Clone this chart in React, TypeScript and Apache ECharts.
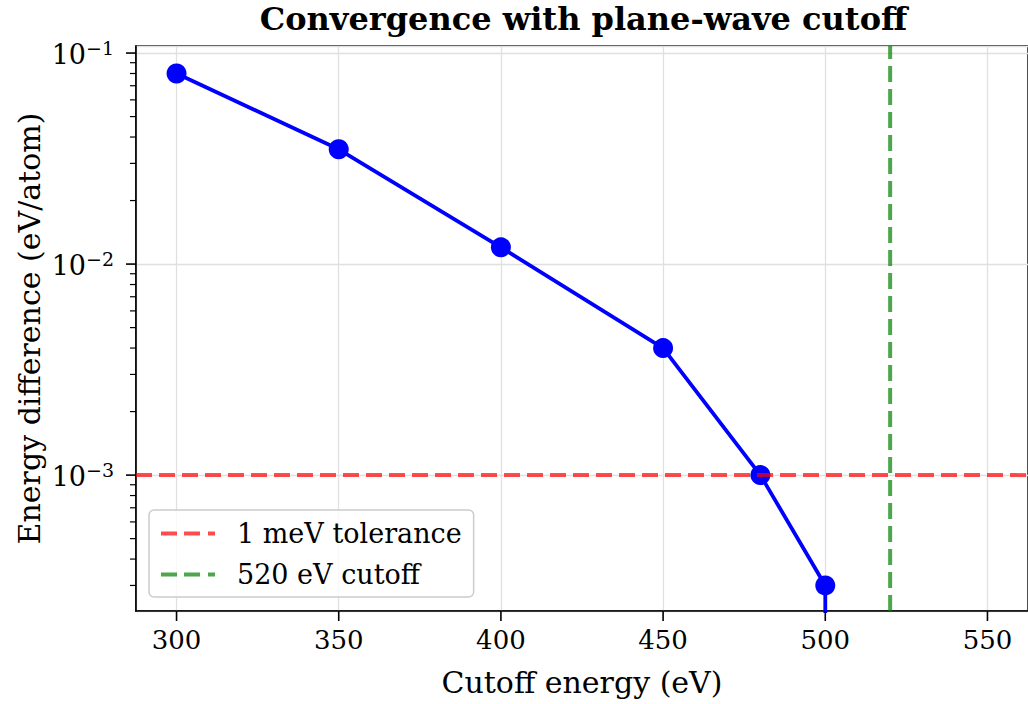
import React, { useEffect, useRef } from "react";
import * as echarts from "echarts";

const TITLE = "Convergence with plane-wave cutoff";
const X_NAME = "Cutoff energy (eV)";
const Y_NAME = "Energy difference (eV/atom)";

const CUTOFFS = [300, 350, 400, 450, 480, 500, 520, 550];
const ENERGY_DIFF = [0.08, 0.035, 0.012, 0.004, 0.001, 0.0003, 0, 0];

const TOLERANCE = 0.001;
const TOLERANCE_LABEL = "1 meV tolerance";
const CHOSEN_CUTOFF = 520;
const CHOSEN_LABEL = "520 eV cutoff";

const X_MIN = 287.5;
const X_MAX = 562.5;
const Y_MIN = 2.27e-4;
const Y_MAX = 0.108;

const X_TICKS = [300, 350, 400, 450, 500, 550];
const Y_TICKS = [0.001, 0.01, 0.1];
const Y_MINOR_TICKS = [
  0.0003, 0.0004, 0.0005, 0.0006, 0.0007, 0.0008, 0.0009,
  0.002, 0.003, 0.004, 0.005, 0.006, 0.007, 0.008, 0.009,
  0.02, 0.03, 0.04, 0.05, 0.06, 0.07, 0.08, 0.09,
];

const FONT = "'DejaVu Serif', serif";
const BLUE = "#0000ff";
const RED = "rgba(255, 0, 0, 0.7)";
const GREEN = "rgba(0, 128, 0, 0.7)";
const DASH = [16, 7];
const DASH_ICON = "path://M0,0h16v4h-16z M23,0h16v4h-16z M47,0h7v4h-7z";

const GRID_LEFT = 136;
const GRID_TOP = 46;
const GRID_W = 895;
const GRID_H = 565;

export default function App() {
  const ref = useRef<HTMLDivElement>(null);

  useEffect(() => {
    if (!ref.current) return;
    const chart = echarts.init(ref.current, null, { renderer: "svg" });

    const lineData = CUTOFFS.map((x, i) => [x, ENERGY_DIFF[i] > 0 ? ENERGY_DIFF[i] : 1e-300]);

    const tickLine = (x1: number, y1: number, x2: number, y2: number, w: number) => ({
      type: "line",
      shape: { x1, y1, x2, y2 },
      style: { stroke: "#000", lineWidth: w },
    });

    const option: any = {
      animation: false,
      backgroundColor: "#ffffff",
      title: {
        text: TITLE,
        left: GRID_LEFT + GRID_W / 2,
        textAlign: "center",
        top: 4,
        padding: 0,
        textStyle: { fontFamily: FONT, fontWeight: "bold", fontSize: 32, lineHeight: 30, color: "#000" },
      },
      graphic: [
        {
          type: "text",
          x: 29,
          y: GRID_TOP + GRID_H / 2,
          rotation: Math.PI / 2,
          style: {
            text: Y_NAME,
            fontFamily: FONT,
            fontSize: 30,
            fill: "#000",
            align: "center",
            verticalAlign: "middle",
          },
        },
      ],
      grid: {
        left: GRID_LEFT,
        top: GRID_TOP,
        width: GRID_W,
        height: GRID_H,
        show: true,
        borderColor: "#000",
        borderWidth: 1.6,
        backgroundColor: "transparent",
      },
      legend: {
        orient: "vertical",
        left: 149,
        top: 510,
        padding: [10, 12, 9, 12],
        itemWidth: 54,
        itemHeight: 4,
        itemGap: 14,
        symbolKeepAspect: false,
        selectedMode: false,
        borderColor: "#cccccc",
        borderWidth: 1.5,
        borderRadius: 5,
        backgroundColor: "rgba(255,255,255,0.8)",
        textStyle: {
          fontFamily: FONT,
          fontSize: 27,
          lineHeight: 27,
          color: "#000",
          padding: [0, 0, 0, 17],
        },
        data: [
          { name: TOLERANCE_LABEL, icon: DASH_ICON },
          { name: CHOSEN_LABEL, icon: DASH_ICON },
        ],
      },
      xAxis: {
        type: "value",
        min: X_MIN,
        max: X_MAX,
        name: X_NAME,
        nameLocation: "middle",
        nameGap: 56,
        nameTextStyle: { fontFamily: FONT, fontSize: 30, color: "#000" },
        axisLine: { show: true, lineStyle: { color: "#000", width: 1.6 } },
        axisTick: { show: false },
        axisLabel: {
          fontFamily: FONT,
          fontSize: 26,
          color: "#000",
          margin: 16,
          showMinLabel: false,
          showMaxLabel: false,
        },
        splitLine: { show: true, lineStyle: { color: "#e0e0e0", width: 1.3 } },
      },
      yAxis: {
        type: "log",
        logBase: 10,
        min: Y_MIN,
        max: Y_MAX,
        axisLine: { show: true, lineStyle: { color: "#000", width: 1.6 } },
        axisTick: { show: false },
        axisLabel: {
          color: "#000",
          margin: 22,
          showMinLabel: false,
          showMaxLabel: false,
          formatter: (v: number) => {
            const e = Math.round(Math.log10(v));
            return `{b|10}{s|\u2212${Math.abs(e)}}`;
          },
          rich: {
            b: { fontFamily: FONT, fontSize: 27, lineHeight: 30, color: "#000", verticalAlign: "bottom" },
            s: { fontFamily: FONT, fontSize: 19, lineHeight: 19, color: "#000", verticalAlign: "top" },
          },
        },
        splitLine: { show: true, lineStyle: { color: "#e0e0e0", width: 1.3 } },
      },
      series: [
        {
          name: "data",
          type: "line",
          data: lineData,
          clip: true,
          symbol: "circle",
          symbolSize: 20,
          itemStyle: { color: BLUE },
          lineStyle: { color: BLUE, width: 3.8 },
          z: 3,
        },
        {
          name: TOLERANCE_LABEL,
          type: "line",
          data: [
            [X_MIN, TOLERANCE],
            [X_MAX, TOLERANCE],
          ],
          symbol: "none",
          silent: true,
          itemStyle: { color: RED },
          lineStyle: { color: RED, width: 4, type: DASH },
          z: 4,
        },
        {
          name: CHOSEN_LABEL,
          type: "line",
          data: [
            [CHOSEN_CUTOFF, Y_MIN],
            [CHOSEN_CUTOFF, Y_MAX],
          ],
          symbol: "none",
          silent: true,
          itemStyle: { color: GREEN },
          lineStyle: { color: GREEN, width: 4, type: DASH },
          z: 4,
        },
        {
          name: "xticks",
          type: "custom",
          data: X_TICKS.map((x) => [x, Y_MAX]),
          encode: { x: 0, y: 1 },
          silent: true,
          z: 5,
          renderItem: (params: any, api: any) => {
            const cs = params.coordSys;
            const px = api.coord([api.value(0), Y_MAX])[0];
            const y0 = cs.y + cs.height;
            return tickLine(px, y0, px, y0 + 10, 1.6);
          },
        },
        {
          name: "yticks",
          type: "custom",
          data: Y_TICKS.map((v) => [X_MIN, v, 10]).concat(Y_MINOR_TICKS.map((v) => [X_MIN, v, 6])),
          encode: { x: 0, y: 1 },
          silent: true,
          z: 5,
          renderItem: (params: any, api: any) => {
            const cs = params.coordSys;
            const py = api.coord([X_MIN, api.value(1)])[1];
            const len = api.value(2);
            return tickLine(cs.x - len, py, cs.x, py, len > 8 ? 1.6 : 1.2);
          },
        },
      ],
    };

    chart.setOption(option);
    return () => chart.dispose();
  }, []);

  return (
    <div
      ref={ref}
      style={{ position: "fixed", left: 0, top: 0, width: 1028, height: 704, background: "#fff" }}
    />
  );
}
